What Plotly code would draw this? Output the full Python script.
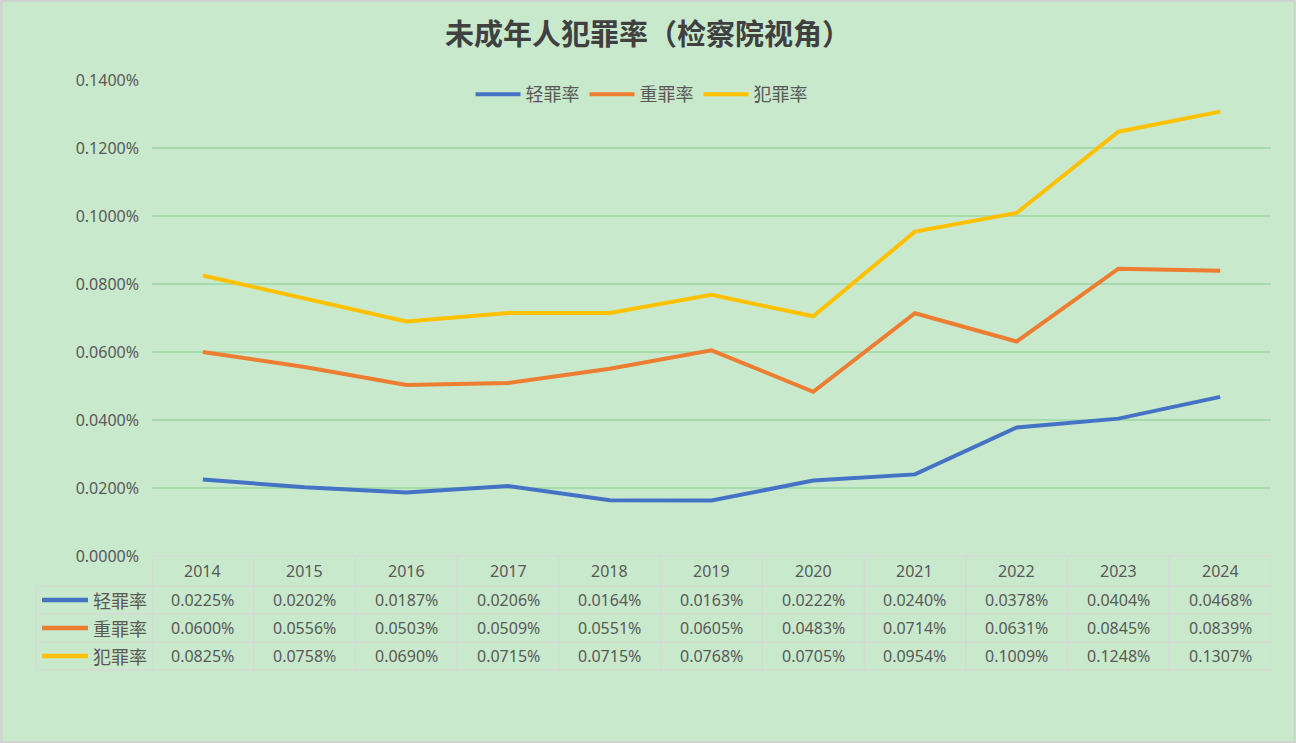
import plotly.graph_objects as go

years = ["2014", "2015", "2016", "2017", "2018", "2019", "2020", "2021", "2022", "2023", "2024"]
series_names = ["轻罪率", "重罪率", "犯罪率"]
light = [0.0225, 0.0202, 0.0187, 0.0206, 0.0164, 0.0163, 0.0222, 0.0240, 0.0378, 0.0404, 0.0468]
heavy = [0.0600, 0.0556, 0.0503, 0.0509, 0.0551, 0.0605, 0.0483, 0.0714, 0.0631, 0.0845, 0.0839]
total = [0.0825, 0.0758, 0.0690, 0.0715, 0.0715, 0.0768, 0.0705, 0.0954, 0.1009, 0.1248, 0.1307]
y_ticks = [0.0, 0.02, 0.04, 0.06, 0.08, 0.10, 0.12, 0.14]

W, H = 1296, 743
colors = ["#4472C4", "#ED7D31", "#FFC000"]
bg = "#C9E9CC"
grid = "#A6DBAE"
tbl = "#D6D9D6"
txt = "#595959"

def py(p):
    return 1 - p / H

def px(p):
    return p / W

fig = go.Figure()
for name, vals, c in zip(series_names, [light, heavy, total], colors):
    fig.add_trace(go.Scatter(x=list(range(len(years))), y=vals, mode="lines", name=name,
                             line=dict(color=c, width=4)))

plot_left, plot_right, plot_top, plot_bottom = 152, 1271, 80, 556
row_y = [600, 628, 656]
row_lines = [586, 614, 642, 670]

shapes = []
annotations = []
for i in range(len(years) + 1):
    shapes.append(dict(type="line", xref="x", yref="paper", x0=i - 0.5, x1=i - 0.5,
                       y0=py(plot_bottom), y1=py(row_lines[-1]), line=dict(color=tbl, width=1.5)))
shapes.append(dict(type="line", xref="paper", yref="paper", x0=px(36), x1=px(36),
                   y0=py(row_lines[0]), y1=py(row_lines[-1]), line=dict(color=tbl, width=1.5)))
shapes.append(dict(type="line", xref="x", yref="paper", x0=-0.5, x1=len(years) - 0.5,
                   y0=py(plot_bottom), y1=py(plot_bottom), line=dict(color=tbl, width=1.5)))
for r in row_lines:
    shapes.append(dict(type="line", xref="paper", yref="paper", x0=px(36), x1=px(plot_right),
                       y0=py(r), y1=py(r), line=dict(color=tbl, width=1.5)))
for i, yr in enumerate(years):
    annotations.append(dict(x=i, y=py(571), xref="x", yref="paper", text=yr, showarrow=False,
                            font=dict(size=16, color=txt, family="Noto Sans"), xanchor="center", yanchor="middle"))
for ry, name, vals, c in zip(row_y, series_names, [light, heavy, total], colors):
    shapes.append(dict(type="line", xref="paper", yref="paper", x0=px(42), x1=px(88),
                       y0=py(ry), y1=py(ry), line=dict(color=c, width=4.5)))
    annotations.append(dict(x=px(149), y=py(ry), xref="paper", yref="paper", text=name, showarrow=False,
                            font=dict(size=18, color=txt, family="Noto Sans CJK SC"), xanchor="right", yanchor="middle"))
    for i, v in enumerate(vals):
        annotations.append(dict(x=i, y=py(ry), xref="x", yref="paper", text=f"{v:.4f}%", showarrow=False,
                                font=dict(size=16, color=txt, family="Noto Sans"), xanchor="center", yanchor="middle"))
shapes.append(dict(type="rect", xref="paper", yref="paper", x0=0.001, x1=0.999, y0=0.001, y1=0.999,
                   line=dict(color="#D0D0D0", width=2)))

fig.update_layout(
    width=W, height=H,
    margin=dict(l=0, r=0, t=0, b=0, pad=0, autoexpand=False),
    paper_bgcolor=bg, plot_bgcolor=bg,
    title=dict(text="<b>未成年人犯罪率（检察院视角）</b>", x=0.5, xanchor="center", y=py(35), yanchor="middle",
               font=dict(size=29, color="#404040", family="Noto Sans CJK SC")),
    legend=dict(orientation="h", x=0.495, xanchor="center", y=py(76), yanchor="top", itemwidth=45,
                bgcolor="rgba(0,0,0,0)", font=dict(size=18, color=txt, family="Noto Sans CJK SC")),
    xaxis=dict(domain=[px(plot_left), px(plot_right)], range=[-0.5, len(years) - 0.5], automargin=False,
               showticklabels=False, showgrid=False, zeroline=False, showline=False, ticks=""),
    yaxis=dict(domain=[py(plot_bottom), py(plot_top)], range=[0, 0.14], tickvals=y_ticks, automargin=False,
               ticktext=[f"{v:.4f}%" for v in y_ticks], showgrid=True, gridcolor=grid, gridwidth=1.5,
               zeroline=False, showline=False, ticks="", ticklabelstandoff=12,
               tickfont=dict(size=16, color=txt, family="Noto Sans")),
    shapes=shapes, annotations=annotations, showlegend=True,
)
fig.write_html("out.html", config={"displayModeBar": False},
               post_script="document.body.style.margin='0';document.body.style.overflow='hidden';")
